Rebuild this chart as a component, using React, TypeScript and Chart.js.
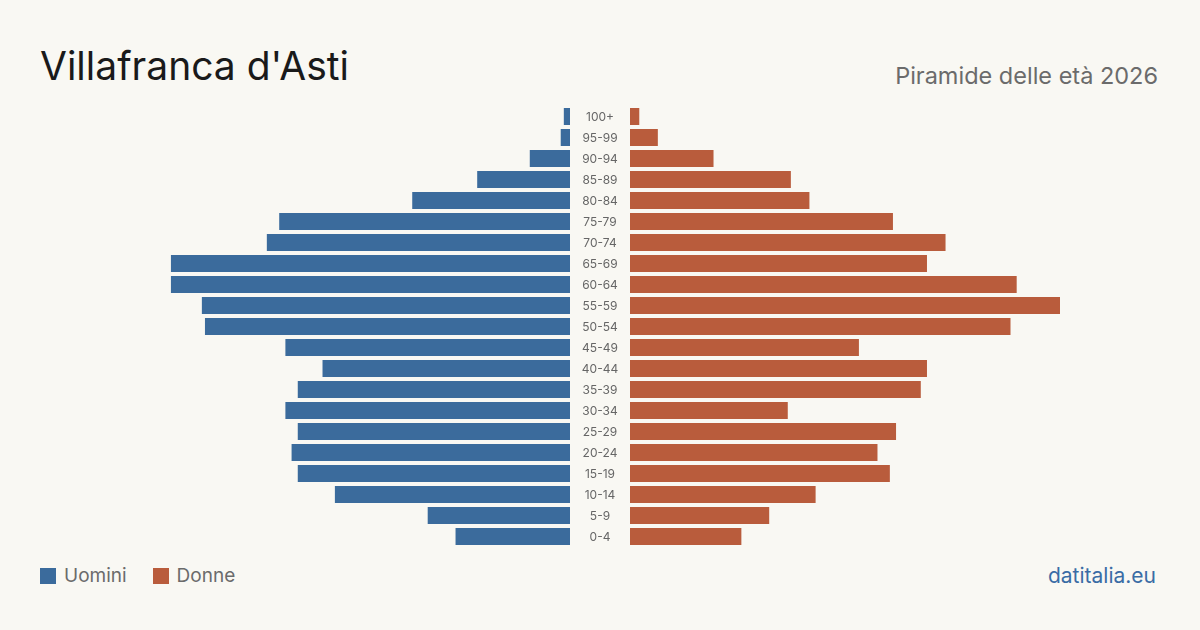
import React, { useEffect, useRef } from "react";
import { Chart, registerables } from "chart.js";

Chart.register(...registerables);

const AGE_GROUPS = ["100+", "95-99", "90-94", "85-89", "80-84", "75-79", "70-74", "65-69", "60-64", "55-59", "50-54", "45-49", "40-44", "35-39", "30-34", "25-29", "20-24", "15-19", "10-14", "5-9", "0-4"];
const MEN = [2, 3, 13, 30, 51, 94, 98, 129, 129, 119, 118, 92, 80, 88, 92, 88, 90, 88, 76, 46, 37];
const WOMEN = [3, 9, 27, 52, 58, 85, 102, 96, 125, 139, 123, 74, 96, 94, 51, 86, 80, 84, 60, 45, 36];

const BLUE = "#3b6b9c";
const ORANGE = "#b95c3c";
const BG = "#f9f8f3";
const FONT = "Inter, 'Noto Sans', sans-serif";
const MAX = Math.max(...MEN, ...WOMEN);

const centerLabels = {
  id: "centerLabels",
  afterDraw(chart: any) {
    const { ctx, chartArea, scales } = chart;
    ctx.save();
    ctx.fillStyle = "#666";
    ctx.font = `12px ${FONT}`;
    ctx.textAlign = "center";
    ctx.textBaseline = "middle";
    AGE_GROUPS.forEach((lab, i) => {
      ctx.fillText(lab, chartArea.left - 30, scales.y.getPixelForValue(i) + 1);
    });
    ctx.restore();
  },
};

export default function App() {
  const leftRef = useRef<HTMLCanvasElement>(null);
  const rightRef = useRef<HTMLCanvasElement>(null);

  useEffect(() => {
    document.body.style.margin = "0";
    const base: any = {
      indexAxis: "y",
      responsive: false,
      animation: false,
      maintainAspectRatio: false,
      plugins: { legend: { display: false }, tooltip: { enabled: false } },
    };
    const left = new Chart(leftRef.current!, {
      type: "bar",
      data: {
        labels: AGE_GROUPS,
        datasets: [{ label: "Uomini", data: MEN, backgroundColor: BLUE, barPercentage: 0.81, categoryPercentage: 1 }],
      },
      options: {
        ...base,
        layout: { padding: 0 },
        scales: {
          x: { display: false, min: 0, max: MAX, reverse: true },
          y: { display: false },
        },
      },
    });
    const right = new Chart(rightRef.current!, {
      type: "bar",
      data: {
        labels: AGE_GROUPS,
        datasets: [{ label: "Donne", data: WOMEN, backgroundColor: ORANGE, barPercentage: 0.81, categoryPercentage: 1 }],
      },
      options: {
        ...base,
        layout: { padding: { left: 60, right: 0, top: 0, bottom: 0 } },
        scales: {
          x: { display: false, min: 0, max: MAX },
          y: { display: false },
        },
      },
      plugins: [centerLabels],
    });
    return () => { left.destroy(); right.destroy(); };
  }, []);

  return (
    <div style={{ position: "absolute", left: 0, top: 0, width: 1200, height: 630, background: BG, fontFamily: FONT, overflow: "hidden" }}>
      <div style={{ position: "absolute", left: 40, top: 41, fontSize: 39, color: "#1a1a1a", lineHeight: "50px" }}>Villafranca d'Asti</div>
      <div style={{ position: "absolute", right: 42, top: 61, fontSize: 23.5, color: "#6b6b6b", lineHeight: "30px" }}>Piramide delle età 2026</div>
      <canvas ref={leftRef} width={430} height={441} style={{ position: "absolute", left: 140, top: 106, width: 430, height: 441 }} />
      <canvas ref={rightRef} width={490} height={441} style={{ position: "absolute", left: 570, top: 106, width: 490, height: 441 }} />
      <div style={{ position: "absolute", left: 40, top: 565, display: "flex", alignItems: "center", fontSize: 19, color: "#6b6b6b", lineHeight: "22px" }}>
        <span style={{ width: 16, height: 16, background: BLUE, display: "inline-block", marginRight: 8 }} />
        <span style={{ marginRight: 26 }}>Uomini</span>
        <span style={{ width: 16, height: 16, background: ORANGE, display: "inline-block", marginRight: 8 }} />
        <span>Donne</span>
      </div>
      <div style={{ position: "absolute", right: 44, top: 564, fontSize: 21, color: "#3a6ca5", lineHeight: "24px" }}>datitalia.eu</div>
    </div>
  );
}
